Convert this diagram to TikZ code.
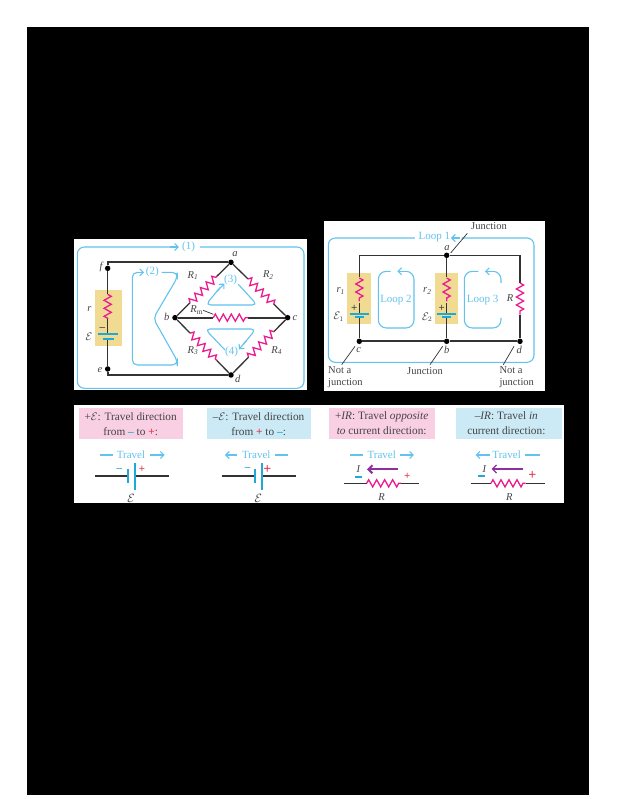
\documentclass[tikz,border=0pt]{standalone}
\usepackage{fontspec}
\setmainfont{Liberation Serif}
\usetikzlibrary{calc,decorations.pathmorphing,arrows.meta}
\definecolor{wirec}{HTML}{333333}
\definecolor{loopc}{HTML}{62C3EE}
\definecolor{resc}{HTML}{EC1C90}
\definecolor{goldc}{HTML}{F1DB93}
\definecolor{pinkc}{HTML}{F9CFE3}
\definecolor{bluec}{HTML}{CBEAF5}
\definecolor{redc}{HTML}{E5344E}
\definecolor{purc}{HTML}{8E2F9E}
\definecolor{platec}{HTML}{1FA9D6}
\definecolor{txtc}{HTML}{444444}
\tikzset{
  wire/.style={draw=wirec,line width=1.3pt},
  thickwire/.style={draw=wirec,line width=1.8pt},
  thinwire/.style={draw=wirec,line width=.7pt},
  zig/.style={draw=resc,line width=1.3pt,decorate,decoration={zigzag,amplitude=3.6pt,segment length=8pt}},
  loopline/.style={draw=loopc,line width=1.1pt,rounded corners=5pt},
  looparrow/.style={draw=loopc,line width=1.1pt,-{Straight Barb[length=3.5pt,width=7pt]}},
  plate/.style={draw=platec,line width=1.8pt},
  dotn/.style={circle,fill=black,inner sep=0pt,minimum size=5.5pt},
  lab/.style={inner sep=0pt,text=txtc,font=\fontsize{10.5}{11}\selectfont\itshape},
  looplab/.style={inner sep=0pt,text=loopc,font=\fontsize{11}{12}\selectfont},
  small/.style={inner sep=0pt,text=txtc,font=\fontsize{10.5}{12}\selectfont},
  head/.style={inner sep=0pt,text=txtc,align=center,font=\fontsize{11.3}{15}\selectfont},
  sgn/.style={inner sep=0pt,font=\fontsize{11}{11}\selectfont\bfseries},
}
\newcommand{\rst}[4]{% from, to, f1, f2
  \draw[wire] (#1) -- ($(#1)!#3!(#2)$);
  \draw[zig] ($(#1)!#3!(#2)$) -- ($(#1)!#4!(#2)$);
  \draw[wire] ($(#1)!#4!(#2)$) -- (#2);
}
\begin{document}
\begin{tikzpicture}[x=1pt,y=-1pt]
\useasboundingbox (0,0) rectangle (617,799);
\fill[white] (0,0) rectangle (617,799);
\fill[black] (27,27) rectangle (589,795);
\fill[white] (74,239) rectangle (306.5,390);
\fill[white] (324,221) rectangle (544.5,391);
\fill[white] (74,405) rectangle (564,503);

% ---------- panel 1
\begin{scope}[shift={(70pt,-235pt)},x=0.3333pt,y=-0.3333pt]
\fill[goldc] (75,165) rectangle (155,332);
\node[dotn] (a) at (483,82) {};
\node[dotn] (b) at (315,248) {};
\node[dotn] (c) at (653,248) {};
\node[dotn] (d) at (483,420) {};
\node[dotn] (f) at (113,100) {};
\node[dotn] (e) at (113,402) {};
\coordinate (tl) at (113,82);
\coordinate (bl) at (113,420);
\draw[thickwire] (f) -- (tl) -- (a);
\draw[thickwire] (e) -- (bl) -- (d);
\draw[thickwire] (b) -- (c);
\fill[white] (430,238) rectangle (535,258);
\rst{b}{a}{.27}{.75}
\rst{a}{c}{.30}{.76}
\rst{b}{d}{.27}{.75}
\rst{d}{c}{.31}{.76}
\coordinate (mra) at (430,248);
\coordinate (mrb) at (535,248);
\draw[zig] (mra) -- (mrb);
\coordinate (ra) at (113,178);
\coordinate (rb) at (113,252);
\coordinate (pa) at (113,298);
\coordinate (pb) at (113,312);
\draw[wire] (f) -- (ra);
\draw[zig] (ra) -- (rb);
\draw[wire] (rb) -- (pa);
\draw[wire] (pb) -- (e);
\draw[plate] (84,298) -- (145,298);
\draw[plate] (100,312) -- (133,312);
\node[sgn,text=txtc] (mn) at (97,283) {–};
% loop 1
\node[looplab] (l1) at (356,35) {(1)};
\draw[loopline,rounded corners=7pt] (305,36) -- (22,36) -- (22,460) -- (702,460) -- (702,36) -- (390,36);
\draw[looparrow] (300,36) -- (327,36);
% loop 2
\node[looplab] (l2) at (247,110) {(2)};
\draw[loopline] (275,112) -- (322,112) -- (322,128) -- (250,250) -- (322,378) -- (322,390) -- (187,390) -- (187,112) -- (205,112);
\draw[looparrow] (200,112) -- (222,112);
% loop 3
\node[looplab] (l3) at (482,135) {(3)};
\draw[loopline] (505,148) -- (562,210) -- (407,210) -- (450,158);
\draw[looparrow] (440,170) -- (463,146);
% loop 4
\node[looplab] (l4) at (485,352) {(4)};
\draw[loopline] (465,345) -- (405,282) -- (558,282) -- (520,328);
\draw[looparrow] (530,316) -- (507,343);
% labels
\node[lab] (la) at (495,58) {a};
\node[lab] (lb) at (290,247) {b};
\node[lab] (lc) at (675,250) {c};
\node[lab] (ld) at (503,432) {d};
\node[lab] (lf) at (93,95) {f};
\node[lab] (le) at (90,405) {e};
\node[lab] (lr) at (58,222) {r};
\node[lab] (lE) at (57,305) {$\mathcal{E}$};
\node[lab] (r1) at (369,122) {R\textsubscript{1}};
\node[lab] (r2) at (595,120) {R\textsubscript{2}};
\node[lab] (r3) at (369,347) {R\textsubscript{3}};
\node[lab] (r4) at (620,347) {R\textsubscript{4}};
\node[lab] (rm) at (380,226) {R\textsubscript{\upshape m}};
\coordinate (rmend) at (430,238);
\draw[thinwire] (rm.east) -- (rmend);
\end{scope}

% ---------- panel 2
\begin{scope}[shift={(320pt,-218pt)},x=0.3333pt,y=-0.3333pt]
\fill[goldc] (82,165) rectangle (153,318);
\fill[goldc] (345,165) rectangle (415,318);
\node[dotn] (A) at (380,112) {};
\node[dotn] (B) at (380,370) {};
\node[dotn] (C) at (118,370) {};
\node[dotn] (D) at (600,370) {};
\coordinate (TL) at (118,112);
\coordinate (TR) at (600,112);
\draw[wire] (TL) -- (A) -- (TR);
\draw[thickwire] (C) -- (B) -- (D);
\draw[wire] (TL) -- (C);
\draw[wire] (A) -- (B);
\fill[goldc] (100,285) rectangle (136,300);
\fill[goldc] (362,285) rectangle (398,300);
\foreach \x/\n in {118/p,380/q}{
  \coordinate (\n a) at (\x,180);
  \coordinate (\n b) at (\x,250);
  \fill[goldc] (\x-10,176) rectangle (\x+10,254);
  \draw[zig] (\n a) -- (\n b);
  \draw[plate] (\x-29,288) -- (\x+29,288);
  \draw[plate] (\x-14,298) -- (\x+14,298);
}
\coordinate (Ra) at (600,195);
\coordinate (Rb) at (600,290);
\draw[wire] (TR) -- (Ra);
\draw[zig] (Ra) -- (Rb);
\draw[wire] (Rb) -- (D);
\node[sgn,text=txtc] (p1) at (103,272) {+};
\node[sgn,text=txtc] (p2) at (365,272) {+};
% loop 1
\node[looplab] (L1) at (343,58) {Loop 1};
\draw[loopline,rounded corners=7pt] (285,60) -- (25,60) -- (25,433) -- (642,433) -- (642,60) -- (425,60);
\draw[looparrow] (420,60) -- (393,60);
% loop 2
\node[looplab] (L2) at (228,246) {Loop 2};
\draw[loopline,rounded corners=8pt] (255,160) -- (282,160) -- (282,330) -- (175,330) -- (175,160) -- (212,160);
\draw[looparrow] (255,160) -- (232,160);
% loop 3
\node[looplab] (L3) at (488,246) {Loop 3};
\draw[loopline,rounded corners=8pt] (543,195) -- (543,160) -- (520,160);
\draw[loopline,rounded corners=8pt] (543,300) -- (543,330) -- (433,330) -- (433,160) -- (475,160);
\draw[looparrow] (520,160) -- (495,160);
% labels
\node[lab] (ra1) at (381,90) {a};
\node[lab] (rb1) at (380,397) {b};
\node[lab] (rc1) at (116,397) {c};
\node[lab] (rd1) at (598,397) {d};
\node[lab] (t1) at (62,220) {r\textsubscript{1}};
\node[lab] (e1) at (56,296) {$\mathcal{E}_1$};
\node[lab] (t2) at (322,220) {r\textsubscript{2}};
\node[lab] (e2) at (322,298) {$\mathcal{E}_2$};
\node[lab] (t3) at (570,240) {R};
\node[small] (J1) at (507,23) {Junction};
\node[small] (J2) at (315,458) {Junction};
\node[small,anchor=west,align=left] (N1) at (24,478) {Not a\\junction};
\node[small,anchor=west,align=left] (N2) at (538,478) {Not a\\junction};
\coordinate (s1) at (392,105); \coordinate (s1b) at (442,46);
\coordinate (s2) at (105,385); \coordinate (s2b) at (65,440);
\coordinate (s3) at (368,385); \coordinate (s3b) at (330,440);
\coordinate (s4) at (582,385); \coordinate (s4b) at (550,440);
\draw[thinwire] (s1) -- (s1b);
\draw[thinwire] (s2) -- (s2b);
\draw[thinwire] (s3) -- (s3b);
\draw[thinwire] (s4) -- (s4b);
\end{scope}

% ---------- panel 3, left part
\begin{scope}[shift={(70pt,-400pt)},x=0.3333pt,y=-0.3333pt]
\fill[pinkc] (26,24) rectangle (338,118);
\fill[bluec] (411,24) rectangle (722,118);
\node[head] (h1) at (182,71) {+$\mathcal{E}$: Travel direction\\from {\color{platec}\textbf{–}} to {\color{redc}\textbf{+}}:};
\node[head] (h2) at (566,71) {–$\mathcal{E}$: Travel direction\\from {\color{redc}\textbf{+}} to {\color{platec}\textbf{–}}:};
% travel 1
\node[looplab] (tr1) at (183,165) {Travel};
\coordinate (t1a) at (90,165); \coordinate (t1b) at (130,165);
\coordinate (t1c) at (240,165); \coordinate (t1d) at (284,165);
\draw[looparrow,-] (t1a) -- (t1b);
\draw[looparrow] (t1c) -- (t1d);
\coordinate (w1a) at (75,228); \coordinate (w1b) at (175,228);
\coordinate (w1c) at (195,228); \coordinate (w1d) at (297,228);
\draw[wire] (w1a) -- (w1b);
\draw[wire] (w1c) -- (w1d);
\draw[plate] (175,208) -- (175,248);
\draw[plate] (195,188) -- (195,270);
\node[sgn,text=platec] (m1) at (148,209) {–};
\node[sgn,text=redc] (s1p) at (216,209) {+};
\node[lab,font=\fontsize{12}{12}\selectfont] (E1) at (183,296) {$\mathcal{E}$};
% travel 2
\node[looplab] (tr2) at (559,165) {Travel};
\coordinate (t2a) at (500,165); \coordinate (t2b) at (465,165);
\coordinate (t2c) at (615,165); \coordinate (t2d) at (655,165);
\draw[looparrow] (t2a) -- (t2b);
\draw[looparrow,-] (t2c) -- (t2d);
\coordinate (w2a) at (455,228); \coordinate (w2b) at (556,228);
\coordinate (w2c) at (576,228); \coordinate (w2d) at (677,228);
\draw[wire] (w2a) -- (w2b);
\draw[wire] (w2c) -- (w2d);
\draw[plate] (556,208) -- (556,248);
\draw[plate] (576,188) -- (576,270);
\node[sgn,text=platec] (m2) at (533,207) {–};
\node[sgn,text=redc,font=\fontsize{14}{14}\selectfont\bfseries] (s2p) at (592,208) {+};
\node[lab,font=\fontsize{12}{12}\selectfont] (E2) at (565,296) {$\mathcal{E}$};
\end{scope}

% ---------- panel 3, right part
\begin{scope}[shift={(315pt,-400pt)},x=0.3333pt,y=-0.3333pt]
\fill[pinkc] (42,24) rectangle (360,118);
\fill[bluec] (422,24) rectangle (742,118);
\node[head] (h3) at (200,69) {+\textit{IR}: Travel \textit{opposite}\\\textit{to} current direction:};
\node[head] (h4) at (574,69) {–\textit{IR}: Travel \textit{in}\\current direction:};
% travel 3
\node[looplab] (tr3) at (200,165) {Travel};
\coordinate (t3a) at (105,165); \coordinate (t3b) at (145,165);
\coordinate (t3c) at (255,165); \coordinate (t3d) at (297,165);
\draw[looparrow,-] (t3a) -- (t3b);
\draw[looparrow] (t3c) -- (t3d);
\node[lab] (I3) at (130,206) {I};
\coordinate (u3a) at (120,230); \coordinate (u3b) at (140,230);
\draw[plate] (u3a) -- (u3b);
\coordinate (a3a) at (250,208); \coordinate (a3b) at (156,208);
\draw[purc,line width=2pt,-{Straight Barb[length=4pt,width=8pt]}] (a3a) -- (a3b);
\coordinate (r3a) at (88,250); \coordinate (r3b) at (155,250);
\coordinate (r3c) at (258,250); \coordinate (r3d) at (313,250);
\draw[thinwire] (r3a) -- (r3b);
\draw[zig] (r3b) -- (r3c);
\draw[thinwire] (r3c) -- (r3d);
\node[sgn,text=redc] (p3) at (277,230) {+};
\node[lab] (R3) at (200,292) {R};
% travel 4
\node[looplab] (tr4) at (575,165) {Travel};
\coordinate (t4a) at (525,165); \coordinate (t4b) at (482,165);
\coordinate (t4c) at (630,165); \coordinate (t4d) at (675,165);
\draw[looparrow] (t4a) -- (t4b);
\draw[looparrow,-] (t4c) -- (t4d);
\node[lab] (I4) at (508,206) {I};
\coordinate (u4a) at (488,228); \coordinate (u4b) at (510,228);
\draw[plate] (u4a) -- (u4b);
\coordinate (a4a) at (625,207); \coordinate (a4b) at (530,207);
\draw[purc,line width=1.2pt,-{Straight Barb[length=4pt,width=8pt]}] (a4a) -- (a4b);
\coordinate (r4a) at (467,250); \coordinate (r4b) at (528,250);
\coordinate (r4c) at (632,250); \coordinate (r4d) at (690,250);
\draw[thinwire] (r4a) -- (r4b);
\draw[zig] (r4b) -- (r4c);
\draw[thinwire] (r4c) -- (r4d);
\node[sgn,text=redc,font=\fontsize{14}{14}\selectfont\bfseries] (p4) at (652,228) {+};
\node[lab] (R4) at (583,292) {R};
\end{scope}
\end{tikzpicture}
\end{document}
